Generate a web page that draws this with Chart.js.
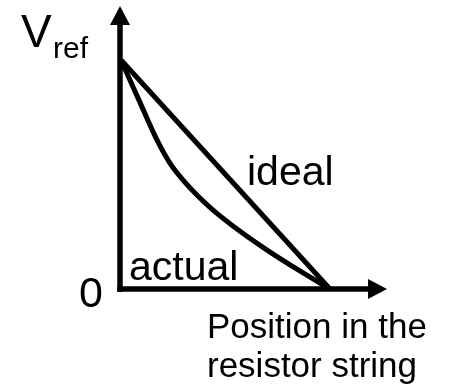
<!DOCTYPE html>
<html>
<head>
<meta charset="utf-8">
<script src="https://cdn.jsdelivr.net/npm/chart.js@4.4.1/dist/chart.umd.min.js"></script>
<style>
  html, body { margin: 0; padding: 0; background: #ffffff; }
  #wrap { width: 452px; height: 389px; position: relative; }
</style>
</head>
<body>
<div id="wrap"><canvas id="c" width="452" height="389"></canvas></div>
<script>
// Normalised position along the resistor string (0 = start, 1 = end)
const idealX = [0, 1];
const idealY = [1, 0];

// Measured tap voltage, normalised to Vref
const actualX = [0, 0.086, 0.172, 0.234, 0.297, 0.368, 0.435, 0.555, 0.699, 0.856, 1];
const actualY = [1, 0.825, 0.651, 0.550, 0.476, 0.406, 0.349, 0.262, 0.170, 0.079, 0];

const xMax = 1.273;
const yMax = 1.236;

const FONT = '"Liberation Sans", Arial, Helvetica, sans-serif';
const INK = '#000000';

function pts(xs, ys) { return xs.map((x, i) => ({ x: x, y: ys[i] })); }

// Axes with arrowheads plus the hand-placed labels
const sketchAxes = {
  id: 'sketchAxes',
  afterDatasetsDraw(chart) {
    const ctx = chart.ctx;
    const xs = chart.scales.x, ys = chart.scales.y;
    const x0 = xs.getPixelForValue(0) - 1;
    const y0 = ys.getPixelForValue(0);
    const xEnd = xs.getPixelForValue(xMax);
    const yEnd = ys.getPixelForValue(yMax);
    const head = 19, half = 10;

    ctx.save();
    ctx.strokeStyle = INK;
    ctx.fillStyle = INK;
    ctx.lineWidth = 5.5;
    ctx.lineCap = 'butt';

    // vertical axis
    ctx.beginPath();
    ctx.moveTo(x0, y0 + 2.75);
    ctx.lineTo(x0, yEnd + head);
    ctx.stroke();
    ctx.beginPath();
    ctx.moveTo(x0, yEnd);
    ctx.lineTo(x0 - half, yEnd + head);
    ctx.lineTo(x0 + half, yEnd + head);
    ctx.closePath();
    ctx.fill();

    // horizontal axis
    ctx.beginPath();
    ctx.moveTo(x0 - 2.75, y0);
    ctx.lineTo(xEnd - head, y0);
    ctx.stroke();
    ctx.beginPath();
    ctx.moveTo(xEnd, y0);
    ctx.lineTo(xEnd - head, y0 - half);
    ctx.lineTo(xEnd - head, y0 + half);
    ctx.closePath();
    ctx.fill();

    // labels
    ctx.textBaseline = 'alphabetic';
    ctx.textAlign = 'left';
    ctx.font = '46px ' + FONT;
    ctx.fillText('V', 21, 47);
    ctx.font = '30px ' + FONT;
    ctx.fillText('ref', 53, 58);

    ctx.font = '43px ' + FONT;
    ctx.fillText('0', 79, 307);

    ctx.font = '41px ' + FONT;
    ctx.fillText('ideal', 247, 185);
    ctx.fillText('actual', 129, 280);

    ctx.font = '35px ' + FONT;
    ctx.fillText('Position in the', 207, 338);
    ctx.fillText('resistor string', 207, 377);
    ctx.restore();
  }
};

new Chart(document.getElementById('c'), {
  type: 'scatter',
  data: {
    datasets: [
      {
        label: 'ideal',
        data: pts(idealX, idealY),
        showLine: true,
        borderColor: INK,
        borderWidth: 5,
        pointRadius: 0,
        tension: 0
      },
      {
        label: 'actual',
        data: pts(actualX, actualY),
        showLine: true,
        borderColor: INK,
        borderWidth: 5,
        pointRadius: 0,
        cubicInterpolationMode: 'monotone'
      }
    ]
  },
  options: {
    responsive: false,
    animation: false,
    events: [],
    layout: { padding: { left: 121, right: 65, top: 6, bottom: 100 } },
    plugins: { legend: { display: false }, tooltip: { enabled: false } },
    scales: {
      x: { type: 'linear', min: 0, max: xMax, display: false },
      y: { type: 'linear', min: 0, max: yMax, display: false }
    }
  },
  plugins: [sketchAxes]
});
</script>
</body>
</html>
